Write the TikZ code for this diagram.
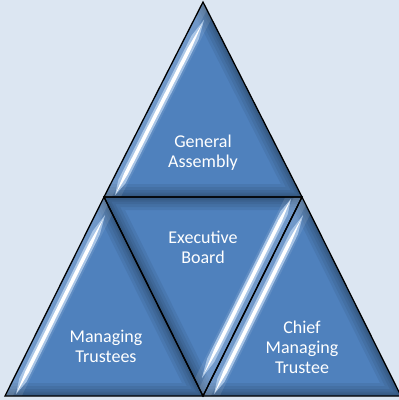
\documentclass[tikz,border=0pt]{standalone}
\usepackage{fontspec}
\setmainfont{Carlito}
\usetikzlibrary{calc}
\definecolor{bgc}{HTML}{DCE6F2}
\definecolor{fillc}{HTML}{4F81BD}
\definecolor{glowc}{HTML}{BFD7F2}
\tikzset{
  edgeline/.style={black,line width=1.3pt,line join=miter},
  label/.style={white,font=\fontsize{18}{20}\selectfont,align=center,anchor=base,inner sep=0pt}
}
% #1 apex, #2 corner on highlighted edge, #3 other corner
\newcommand\pyrface[3]{%
  \fill[fillc] (#1)--(#2)--(#3)--cycle;
  \begin{scope}
    \clip (#1)--(#2)--(#3)--cycle;
    \foreach \w in {26,20,14,9,5} {\draw[black,opacity=0.065,line width=\w pt,line join=round] (#1)--(#3)--(#2);}
    \draw[white,opacity=0.10,line width=30pt] (#1)--(#2);
    \draw[white,opacity=0.10,line width=14pt] (#1)--(#2);
  \end{scope}
  \fill[glowc,opacity=0.75]
    ($($(#1)!0.07!(#2)$)!9pt!90:(#2)$) --
    ($($(#1)!0.16!(#2)$)!13pt!90:(#2)$) --
    ($($(#1)!0.90!(#2)$)!13pt!90:(#2)$) --
    ($($(#1)!0.97!(#2)$)!9pt!90:(#2)$) --
    ($($(#1)!0.90!(#2)$)!5pt!90:(#2)$) --
    ($($(#1)!0.16!(#2)$)!5pt!90:(#2)$) -- cycle;
  \fill[white]
    ($($(#1)!0.09!(#2)$)!9pt!90:(#2)$) --
    ($($(#1)!0.22!(#2)$)!10.8pt!90:(#2)$) --
    ($($(#1)!0.86!(#2)$)!10.8pt!90:(#2)$) --
    ($($(#1)!0.96!(#2)$)!9pt!90:(#2)$) --
    ($($(#1)!0.86!(#2)$)!7.2pt!90:(#2)$) --
    ($($(#1)!0.22!(#2)$)!7.2pt!90:(#2)$) -- cycle;
}
\begin{document}
\begin{tikzpicture}[x=1pt,y=-1pt]
  \fill[bgc] (0,0) rectangle (399,400);
  \useasboundingbox (0,0) rectangle (399,400);
  \coordinate (A) at (203,2);
  \coordinate (B) at (104,197);
  \coordinate (C) at (302,197);
  \coordinate (D) at (5,396);
  \coordinate (E) at (203,396);
  \coordinate (F) at (401,396);
  \pyrface{A}{B}{C}
  \pyrface{B}{D}{E}
  \pyrface{E}{C}{B}
  \pyrface{C}{E}{F}
  \draw[edgeline] (A)--(B)--(C)--cycle;
  \draw[edgeline] (B)--(D)--(E)--cycle;
  \draw[edgeline] (B)--(C)--(E)--cycle;
  \draw[edgeline] (C)--(E)--(F)--cycle;
  \node[label] (ga) at (203,167) {General\\Assembly};
  \node[label] (eb) at (203,263) {Executive\\Board};
  \node[label] (mt) at (106,362) {Managing\\Trustees};
  \node[label] (cmt) at (302,373) {Chief\\Managing\\Trustee};
\end{tikzpicture}
\end{document}
